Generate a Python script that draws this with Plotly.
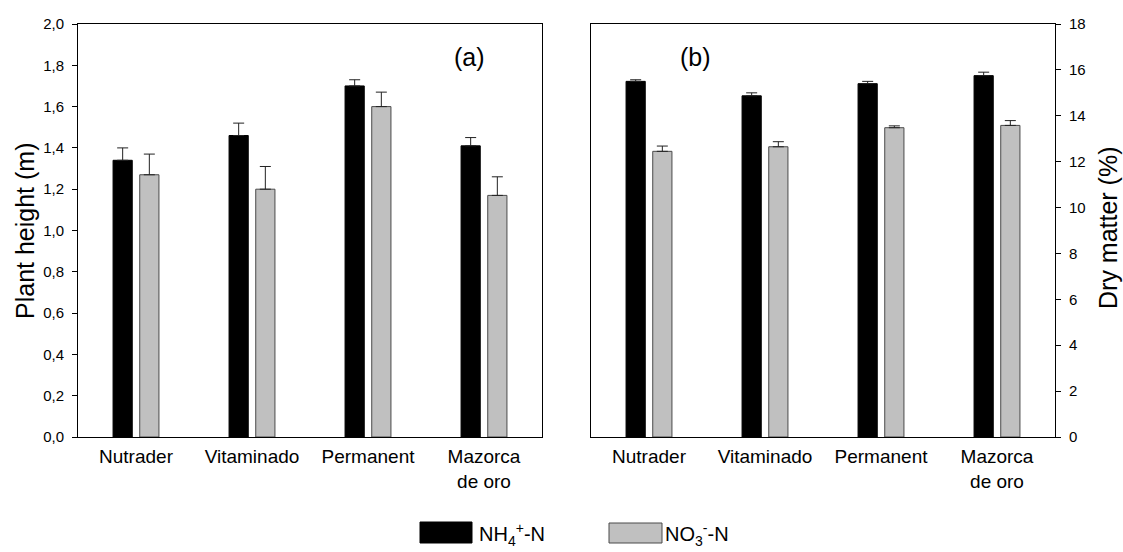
import plotly.graph_objects as go

# Cultivars and measured values (mean and standard error)
cultivars = ["Nutrader", "Vitaminado", "Permanent", "Mazorca de oro"]

height_nh4 = [1.34, 1.46, 1.70, 1.41]
height_nh4_err = [0.06, 0.06, 0.03, 0.04]
height_no3 = [1.27, 1.20, 1.60, 1.17]
height_no3_err = [0.10, 0.11, 0.07, 0.09]

dm_nh4 = [15.50, 14.87, 15.40, 15.75]
dm_nh4_err = [0.07, 0.13, 0.10, 0.15]
dm_no3 = [12.45, 12.65, 13.48, 13.58]
dm_no3_err = [0.23, 0.22, 0.08, 0.21]

height_ticks = [0, 0.2, 0.4, 0.6, 0.8, 1.0, 1.2, 1.4, 1.6, 1.8, 2.0]
dm_ticks = [0, 2, 4, 6, 8, 10, 12, 14, 16, 18]

tick_labels = [c.replace(" de ", "<br>de ") for c in cultivars]

W, H = 1123, 552
FONT = "Liberation Sans, Arial, sans-serif"
BLACK = "#000000"
GRAY = "#c0c0c0"
GRAY_EDGE = "#4a4a4a"


def px(x):
    return x / W


def py(y):
    return 1 - y / H


def bar(y, err, color, edge, xa, ya):
    return go.Bar(
        x=cultivars, y=y, xaxis=xa, yaxis=ya,
        marker=dict(color=color, line=dict(color=edge, width=1)),
        error_y=dict(type="data", symmetric=False, array=err,
                     arrayminus=[0] * len(err), color="#222222",
                     thickness=1, width=5.5),
        showlegend=False, hoverinfo="skip",
    )


fig = go.Figure()
fig.add_trace(bar(height_nh4, height_nh4_err, BLACK, BLACK, "x", "y"))
fig.add_trace(bar(height_no3, height_no3_err, GRAY, GRAY_EDGE, "x", "y"))
fig.add_trace(bar(dm_nh4, dm_nh4_err, BLACK, BLACK, "x2", "y2"))
fig.add_trace(bar(dm_no3, dm_no3_err, GRAY, GRAY_EDGE, "x2", "y2"))

axis_common = dict(showline=True, linecolor="black", linewidth=1,
                   showgrid=False, zeroline=False, automargin=False,
                   tickcolor="black",
                   tickfont=dict(family=FONT, size=15, color="black"))

x_common = dict(axis_common, type="category", range=[-0.5, 3.5],
                categoryorder="array", categoryarray=cultivars,
                tickvals=cultivars, ticktext=tick_labels, ticks="",
                mirror=True, ticklabelstandoff=2,
                tickfont=dict(family=FONT, size=19, color="black"))

y_domain = [py(437), py(24)]

fig.update_layout(
    width=W, height=H,
    margin=dict(l=0, r=0, t=0, b=0),
    paper_bgcolor="white", plot_bgcolor="white",
    separators=",.",
    barmode="group", bargap=0.54, bargroupgap=0.28,
    font=dict(family=FONT, color="black"),
    xaxis=dict(x_common, domain=[px(78), px(542)], anchor="y"),
    yaxis=dict(axis_common, domain=y_domain, anchor="x",
               range=[0, 2.0], tickvals=height_ticks, tickformat=".1f",
               ticks="outside", ticklen=5, ticklabelstandoff=5, mirror=True),
    xaxis2=dict(x_common, domain=[px(591), px(1055)], anchor="y2"),
    yaxis2=dict(axis_common, domain=y_domain, anchor="x2",
                side="right", range=[0, 18], tickvals=dm_ticks,
                ticks="outside", ticklen=5, ticklabelstandoff=5, mirror=True),
    yaxis3=dict(overlaying="y2", anchor="x2", side="left", range=[0, 18],
                tickvals=dm_ticks, ticks="inside", ticklen=3,
                tickcolor="#555555", showticklabels=False, showline=False,
                showgrid=False, zeroline=False, automargin=False),
)

annotations = [
    dict(text="Plant height (m)", x=px(25), y=py(231), textangle=-90,
         font=dict(size=25)),
    dict(text="Dry matter (%)", x=px(1108), y=py(228), textangle=-90,
         font=dict(size=25)),
    dict(text="(a)", x=px(469), y=py(57), font=dict(size=25)),
    dict(text="(b)", x=px(695), y=py(57), font=dict(size=25)),
    dict(text="NH<sub>4</sub><sup>+</sup>-N", x=px(477), y=py(534),
         xanchor="left", font=dict(size=20)),
    dict(text="NO<sub>3</sub><sup>-</sup>-N", x=px(663), y=py(534),
         xanchor="left", font=dict(size=20)),
]
for a in annotations:
    a.setdefault("xanchor", "center")
    fig.add_annotation(xref="paper", yref="paper", showarrow=False,
                       yanchor="middle", **a)

# Legend swatches
fig.add_shape(type="rect", xref="paper", yref="paper",
              x0=px(420), x1=px(472), y0=py(543), y1=py(522),
              fillcolor=BLACK, line=dict(color=BLACK, width=1))
fig.add_shape(type="rect", xref="paper", yref="paper",
              x0=px(609), x1=px(662), y0=py(543), y1=py(523),
              fillcolor=GRAY, line=dict(color=GRAY_EDGE, width=1))

fig.write_html("out.html")
